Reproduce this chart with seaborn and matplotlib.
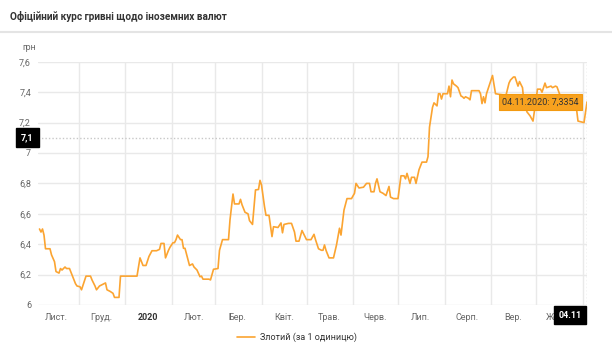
import matplotlib
matplotlib.use("Agg")
import matplotlib.pyplot as plt
import matplotlib.transforms as mtransforms
from matplotlib.lines import Line2D
import matplotlib.ticker as mticker
import matplotlib.dates as mdates
import seaborn as sns
import pandas as pd

# ---------------- data ----------------
start_date = "2019-11-04"
end_date = "2020-11-04"
day_offsets = [1, 2, 3, 4, 5, 8, 9, 11, 12, 14, 15, 16, 18, 19, 21, 23, 25, 26, 28, 29,
               31, 32, 35, 36, 38, 39, 41, 42, 44, 45, 46, 48, 50, 51, 54, 55, 57, 66, 67, 68,
               70, 72, 74, 76, 79, 81, 82, 84, 85, 87, 88, 90, 91, 92, 93, 95, 96, 97, 98, 100,
               101, 103, 104, 106, 108, 109, 110, 114, 115, 117, 120, 121, 123, 127, 128, 130, 131, 134, 135, 136,
               138, 140, 141, 143, 145, 147, 148, 149, 151, 152, 154, 156, 157, 160, 162, 163, 164, 167, 169, 171,
               172, 174, 176, 179, 182, 184, 185, 187, 189, 190, 191, 192, 194, 197, 199, 201, 202, 204, 206, 209,
               211, 212, 214, 217, 219, 221, 222, 224, 225, 226, 228, 230, 232, 234, 235, 237, 240, 242, 244, 245,
               246, 248, 249, 251, 252, 254, 256, 259, 260, 261, 263, 264, 266, 267, 268, 269, 270, 273, 274, 275,
               276, 277, 279, 280, 282, 283, 284, 285, 287, 288, 289, 294, 295, 296, 297, 298, 299, 302, 303, 305,
               308, 312, 314, 315, 317, 318, 320, 321, 323, 324, 326, 328, 330, 331, 333, 335, 336, 338, 339, 342,
               343, 345, 346, 348, 351, 355, 357, 359, 360, 364, 365, 366]
pln_rate = [6.50, 6.48, 6.50, 6.46, 6.37, 6.37, 6.33, 6.285, 6.22, 6.21, 6.24, 6.23, 6.25, 6.24, 6.24, 6.19, 6.14, 6.125, 6.12, 6.10,
            6.16, 6.19, 6.19, 6.165, 6.125, 6.10, 6.125, 6.13, 6.14, 6.145, 6.10, 6.09, 6.077, 6.05, 6.05, 6.19, 6.19, 6.19, 6.25, 6.31,
            6.26, 6.26, 6.32, 6.357, 6.357, 6.366, 6.405, 6.405, 6.31, 6.36, 6.38, 6.41, 6.41, 6.43, 6.46, 6.43, 6.43, 6.373, 6.373, 6.296,
            6.26, 6.27, 6.25, 6.23, 6.186, 6.19, 6.17, 6.17, 6.165, 6.235, 6.24, 6.36, 6.43, 6.43, 6.56, 6.73, 6.665, 6.665, 6.695, 6.66,
            6.61, 6.60, 6.555, 6.53, 6.757, 6.76, 6.82, 6.79, 6.647, 6.59, 6.59, 6.45, 6.515, 6.51, 6.54, 6.475, 6.53, 6.537, 6.537, 6.48,
            6.42, 6.42, 6.49, 6.43, 6.43, 6.465, 6.43, 6.37, 6.36, 6.36, 6.395, 6.36, 6.31, 6.31, 6.395, 6.505, 6.46, 6.625, 6.70, 6.70,
            6.735, 6.80, 6.77, 6.775, 6.80, 6.80, 6.745, 6.745, 6.80, 6.83, 6.745, 6.735, 6.72, 6.78, 6.71, 6.70, 6.70, 6.85, 6.85, 6.83,
            6.866, 6.80, 6.84, 6.84, 6.80, 6.89, 6.94, 6.94, 6.976, 7.17, 7.30, 7.33, 7.31, 7.39, 7.39, 7.355, 7.39, 7.39, 7.44, 7.37,
            7.48, 7.455, 7.44, 7.43, 7.375, 7.37, 7.36, 7.37, 7.36, 7.35, 7.41, 7.41, 7.39, 7.325, 7.37, 7.33, 7.39, 7.48, 7.51, 7.39,
            7.385, 7.38, 7.46, 7.48, 7.50, 7.50, 7.44, 7.47, 7.43, 7.33, 7.27, 7.245, 7.21, 7.28, 7.42, 7.42, 7.40, 7.46, 7.43, 7.44,
            7.43, 7.44, 7.435, 7.38, 7.33, 7.30, 7.31, 7.29, 7.21, 7.20, 7.27, 7.3354]
assert len(day_offsets) == len(pln_rate)

month_labels = ["Лист.", "Груд.", "2020", "Лют.", "Бер.", "Квіт.", "Трав.", "Черв.",
                "Лип.", "Серп.", "Вер.", "Жовт."]
y_ticks = [6.0, 6.2, 6.4, 6.6, 6.8, 7.0, 7.2, 7.4, 7.6]
series_name = "Злотий (за 1 одиницю)"
title = "Офіційний курс гривні щодо іноземних валют"
unit_label = "грн"
plot_line_value = 7.1
tooltip_text = "04.11.2020: 7,3354"
last_label = "04.11"
last_value = 7.3354

# ---------------- build frame ----------------
t0 = pd.Timestamp(start_date)
t1 = pd.Timestamp(end_date)
df = pd.DataFrame({
    "date": t0 + pd.to_timedelta(day_offsets, unit="D"),
    "rate": pln_rate,
})

sns.set_theme(style="white")
plt.rcParams["font.family"] = ["Roboto", "DejaVu Sans"]

LINE = "#FBA431"
GRID = "#e9e9e9"
TXT = "#666666"

fig = plt.figure(figsize=(6.12, 3.5), dpi=100)
ax = fig.add_axes([38 / 612, 45 / 350, 549 / 612, 243.2 / 350])

sns.lineplot(data=df, x="date", y="rate", ax=ax, color=LINE, linewidth=1.2,
             label=series_name)

t1n = mdates.date2num(t1.to_pydatetime())
ax.set_xlim(mdates.date2num(t0.to_pydatetime()), t1n)
ax.set_ylim(6.0, 7.6)

# y axis
ax.set_yticks(y_ticks)
ax.yaxis.set_major_formatter(mticker.FuncFormatter(lambda v, p: ("%g" % v).replace(".", ",")))
ax.tick_params(axis="y", labelsize=6.5, labelcolor=TXT, length=0, pad=5)

# x axis: month-start grid lines, mid-month labels
month_starts = pd.date_range("2019-12-01", "2020-11-01", freq="MS")
mid_months = pd.date_range("2019-11-01", "2020-10-01", freq="MS") + pd.Timedelta(days=15)
ax.set_xticks(mdates.date2num(mid_months.to_pydatetime()))
ax.set_xticklabels(month_labels)
ax.set_xticks(mdates.date2num(month_starts.to_pydatetime()), minor=True)
ax.tick_params(axis="x", which="both", length=0, labelsize=6.5, labelcolor=TXT, pad=6)
for lab in ax.get_xticklabels():
    if lab.get_text() == "2020":
        lab.set_fontweight("bold")
        lab.set_color("#333333")

ax.grid(axis="y", which="major", color=GRID, linewidth=1.0)
ax.grid(axis="x", which="minor", color=GRID, linewidth=1.0)
ax.grid(axis="x", which="major", visible=False)
for s in ax.spines.values():
    s.set_visible(False)
ax.set_xlabel("")
ax.set_ylabel("")

# crosshairs
ax.axhline(plot_line_value, color="#c8c8c8", linestyle=(0, (1, 1.5)), linewidth=1.0)
ax.axvline(t1n, color="#c8c8c8", linestyle=(0, (1, 1.5)), linewidth=1.0)

# y crosshair label
blend = mtransforms.blended_transform_factory(ax.transAxes, ax.transData)
ax.text(-0.008, plot_line_value, ("%g" % plot_line_value).replace(".", ","),
        transform=blend, ha="right", va="center", fontsize=6.5, color="white",
        fontweight="bold", zorder=10,
        bbox=dict(boxstyle="square,pad=0.55", fc="black", ec="black"))

# tooltip
ax.annotate(tooltip_text, xy=(t1n, last_value), xytext=(-6, 0), textcoords="offset points",
            ha="right", va="center", fontsize=6.5, color="#333333", zorder=10,
            bbox=dict(boxstyle="square,pad=0.4", fc="#F7A11E", ec="#F39A10", lw=0.8))

# x crosshair label
blend_x = mtransforms.blended_transform_factory(ax.transData, ax.transAxes)
ax.annotate(last_label, xy=(t1n, 0), xycoords=blend_x, xytext=(-4, -7.5),
            textcoords="offset points", ha="right", va="center", fontsize=6.5,
            color="white", fontweight="bold", zorder=10, annotation_clip=False,
            bbox=dict(boxstyle="square,pad=0.5", fc="black", ec="black"))

# legend
ax.legend(loc="center", bbox_to_anchor=(0.485, 0.037), bbox_transform=fig.transFigure,
          frameon=False, fontsize=6.5, handlelength=2.0, labelcolor="#333333",
          handletextpad=0.5)

# title, separator and unit
fig.text(10 / 612, 1 - 17 / 350, title, ha="left", va="center", fontsize=7.2,
         fontweight="bold", color="#333333")
fig.add_artist(Line2D([0, 1], [1 - 32 / 350, 1 - 32 / 350], transform=fig.transFigure,
                      color="#e4e4e4", linewidth=1.5))
fig.text(22 / 612, 1 - 47 / 350, unit_label, ha="left", va="center", fontsize=6.3, color=TXT)

fig.savefig("out.png", dpi=100)
